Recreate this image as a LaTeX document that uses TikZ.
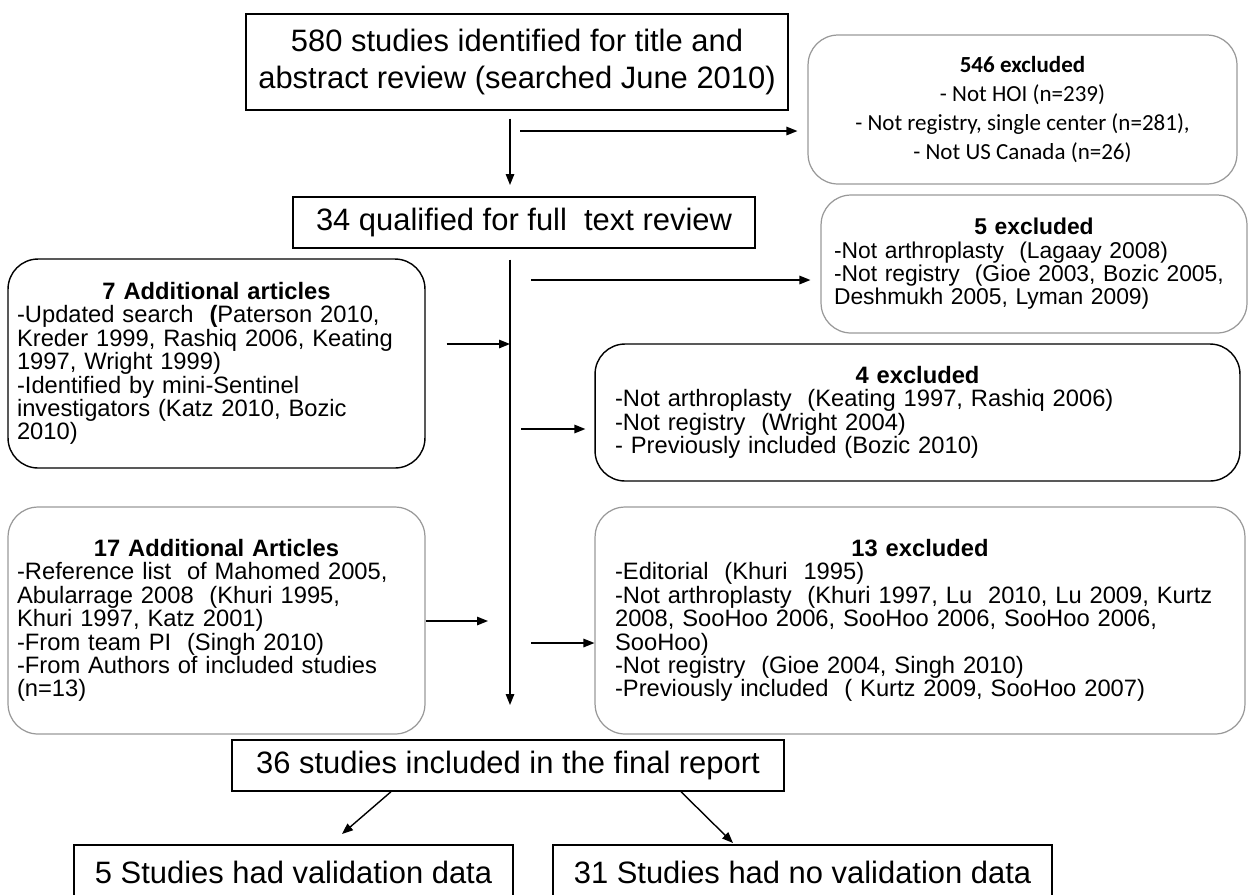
\documentclass[tikz,border=0pt]{standalone}
\usepackage{fontspec}
\setmainfont{Liberation Sans}
\newfontfamily\calibri{Carlito}
\usetikzlibrary{arrows.meta}

\tikzset{
  bigbox/.style={draw, line width=0.8pt, inner sep=0pt, align=center, font=\fontsize{17.6}{21}\selectfont},
  darkround/.style={draw, line width=0.8pt, rounded corners=0.6cm},
  lightround/.style={draw=black!40, line width=0.7pt, rounded corners=0.6cm},
  sidetext/.style={font=\fontsize{13.5}{13.3}\selectfont},
  arr/.style={-{Triangle[length=0.22cm,width=0.17cm]}, line width=0.8pt},
}

\begin{document}
\begin{tikzpicture}[x=0.02cm, y=-0.02cm]
\useasboundingbox (0,0) rectangle (1256,894);
\clip (0,0) rectangle (1256,894);

% screening
\node[bigbox, minimum width=10.84cm, minimum height=1.92cm] (start) at (517,62)
  {580 studies identified for title and\\abstract review (searched June 2010)};
\node[lightround, align=center, inner sep=0pt, minimum width=8.58cm, minimum height=2.98cm,
  font=\calibri\fontsize{13.1}{16.4}\selectfont] (excl1) at (1022.5,109.5)
  {\textbf{546 excluded}\\- Not HOI (n=239)\\- Not registry, single center (n=281),\\- Not US Canada (n=26)};
\node[bigbox, minimum width=9.24cm, minimum height=1.02cm] (qual) at (524,222.5)
  {34 qualified for full\ \ text review};
\node[lightround, font=\fontsize{13}{13.3}\selectfont, inner xsep=0.26cm, text width=8.0cm, minimum height=2.76cm] (excl2) at (1034,264)
  {{\centering\bfseries 5 excluded\par}
   -Not arthroplasty\ \ (Lagaay 2008)\\
   -Not registry\ \ (Gioe 2003, Bozic 2005,\\
   Deshmukh 2005, Lyman 2009)};

% extra articles
\node[darkround, sidetext, inner xsep=0.18cm, text width=7.98cm, minimum height=4.18cm] (add1) at (216.5,363.5)
  {{\centering\bfseries 7 Additional articles\par}
   -Updated search\ \ \textbf{(}Paterson 2010,\\
   Kreder 1999, Rashiq 2006, Keating\\
   1997, Wright 1999)\\
   -Identified by mini-Sentinel\\
   investigators (Katz 2010, Bozic\\
   2010)};
\node[darkround, sidetext, inner xsep=0.4cm, text width=12.1cm, minimum height=2.74cm] (excl3) at (917.5,412.5)
  {{\centering\bfseries 4 excluded\par}
   -Not arthroplasty\ \ (Keating 1997, Rashiq 2006)\\
   -Not registry\ \ (Wright 2004)\\
   - Previously included (Bozic 2010)};
\node[lightround, sidetext, inner xsep=0.18cm, text width=7.98cm, minimum height=4.54cm] (add2) at (216.5,620.5)
  {{\centering\bfseries 17 Additional Articles\par}
   -Reference list\ \ of Mahomed 2005,\\
   Abularrage 2008\ \ (Khuri 1995,\\
   Khuri 1997, Katz 2001)\\
   -From team PI\ \ (Singh 2010)\\
   -From Authors of included studies\\
   (n=13)};
\node[lightround, sidetext, inner xsep=0.4cm, text width=12.2cm, minimum height=4.54cm] (excl4) at (920,620.5)
  {{\centering\bfseries 13 excluded\par}
   -Editorial\ \ (Khuri\ \ 1995)\\
   -Not arthroplasty\ \ (Khuri 1997, Lu\ \ 2010, Lu 2009, Kurtz\\
   2008, SooHoo 2006, SooHoo 2006, SooHoo 2006,\\
   SooHoo)\\
   -Not registry\ \ (Gioe 2004, Singh 2010)\\
   -Previously included\ \ ( Kurtz 2009, SooHoo 2007)};

% result
\node[bigbox, minimum width=11.04cm, minimum height=1.02cm] (final) at (508,765.5)
  {36 studies included in the final report};
\node[bigbox, minimum width=8.78cm, minimum height=1.08cm] (valid) at (293.5,872)
  {5 Studies had validation data};
\node[bigbox, minimum width=9.98cm, minimum height=1.08cm] (novalid) at (802.5,872)
  {31 Studies had no validation data};

% connectors
\coordinate (drop) at (510,185);
\coordinate (trunk) at (510,705);
\coordinate (out1) at (520,131);
\coordinate (out2) at (531,280);
\coordinate (in1) at (510,344);
\coordinate (out3) at (521,429);
\coordinate (in2) at (488,621);
\coordinate (out4) at (531,643);
\coordinate (left) at (342,834);
\coordinate (right) at (733,843);

\draw[arr, shorten <=0.16cm] (start.south -| drop) -- (drop);
\draw[arr, shorten >=0.2cm] (out1) -- (out1 -| excl1.west);
\draw[arr, shorten <=0.22cm] (qual.south -| trunk) -- (trunk);
\draw[arr, shorten >=0.2cm] (out2) -- (out2 -| excl2.west);
\draw[arr, shorten <=0.42cm] (add1.east |- in1) -- (in1);
\draw[arr, shorten >=0.18cm] (out3) -- (out3 -| excl3.west);
\draw[arr] (add2.east |- in2) -- (in2);
\draw[arr] (out4) -- (out4 -| excl4.west);
\draw[arr] (final.south -| 391,0) -- (left);
\draw[arr] (final.south -| 681,0) -- (right);
\end{tikzpicture}
\end{document}
